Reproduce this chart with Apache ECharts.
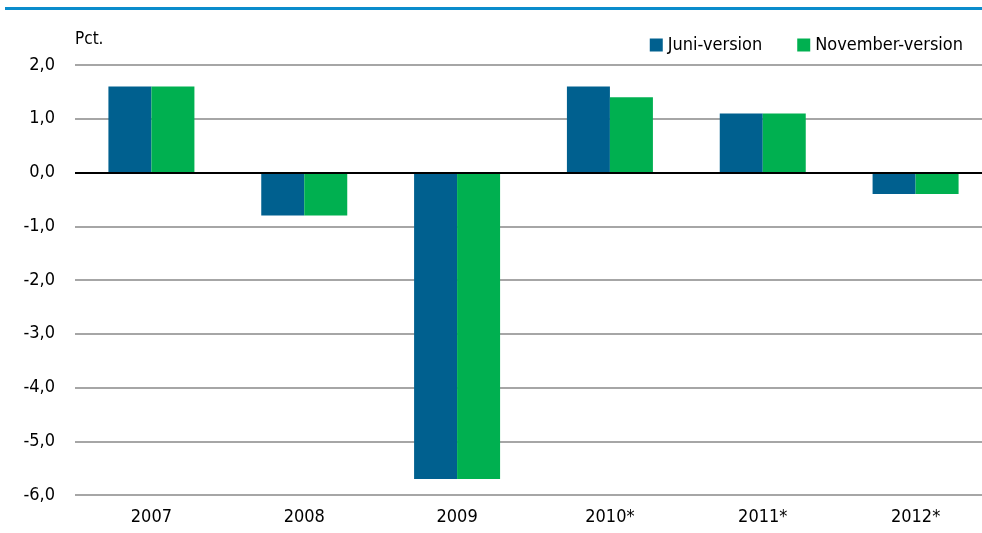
<!DOCTYPE html>
<html>
<head>
<meta charset="utf-8">
<script src="https://cdn.jsdelivr.net/npm/echarts@6/dist/echarts.min.js"></script>
<style>
html, body { margin: 0; padding: 0; background: #fff; }
#chart { width: 982px; height: 533px; }
</style>
</head>
<body>
<div id="chart"></div>
<script>
const categories = ['2007', '2008', '2009', '2010*', '2011*', '2012*']
const juni = [1.6, -0.8, -5.7, 1.6, 1.1, -0.4]
const november = [1.6, -0.8, -5.7, 1.4, 1.1, -0.4]

const font = '"DejaVu Sans Condensed", "Open Sans", sans-serif'

const chart = echarts.init(document.getElementById('chart'))
chart.setOption({
    animation: false,
    textStyle: { fontFamily: font },
    graphic: [
        {
            type: 'rect',
            shape: { x: 5, y: 7, width: 977, height: 3 },
            style: { fill: '#0a8ccc' },
        },
        {
            type: 'text',
            left: 75,
            top: 31,
            style: { text: 'Pct.', fill: '#000', font: '17px ' + font },
        },
    ],
    legend: {
        right: 14,
        top: 31,
        itemWidth: 13,
        itemHeight: 13,
        itemGap: 35,
        itemTextGap: 4,
        icon: 'rect',
        textStyle: { fontSize: 18, color: '#000', fontFamily: font },
        data: ['Juni-version', 'November-version'],
    },
    grid: { left: 75, width: 917, top: 65, bottom: 38, outerBoundsMode: 'none' },
    xAxis: {
        type: 'category',
        data: categories,
        axisLine: { show: false },
        axisTick: { show: false },
        axisLabel: { color: '#000', fontSize: 18, margin: 13 },
    },
    yAxis: {
        type: 'value',
        min: -6,
        max: 2,
        interval: 1,
        axisLine: { show: false },
        axisTick: { show: false },
        axisLabel: {
            color: '#000',
            fontSize: 18,
            margin: 20,
            formatter: v => v.toFixed(1).replace('.', ','),
        },
        splitLine: { lineStyle: { color: '#a6a6a6', width: 2 } },
    },
    series: [
        {
            name: 'Juni-version',
            type: 'bar',
            data: juni,
            barWidth: 43,
            barGap: '0%',
            itemStyle: { color: '#00608f' },
            markLine: {
                silent: true,
                symbol: 'none',
                label: { show: false },
                lineStyle: { color: '#000', width: 2, type: 'solid' },
                data: [{ yAxis: 0 }],
            },
        },
        {
            name: 'November-version',
            type: 'bar',
            data: november,
            barWidth: 43,
            barGap: '0%',
            itemStyle: { color: '#00b050' },
        },
    ],
})
</script>
</body>
</html>
